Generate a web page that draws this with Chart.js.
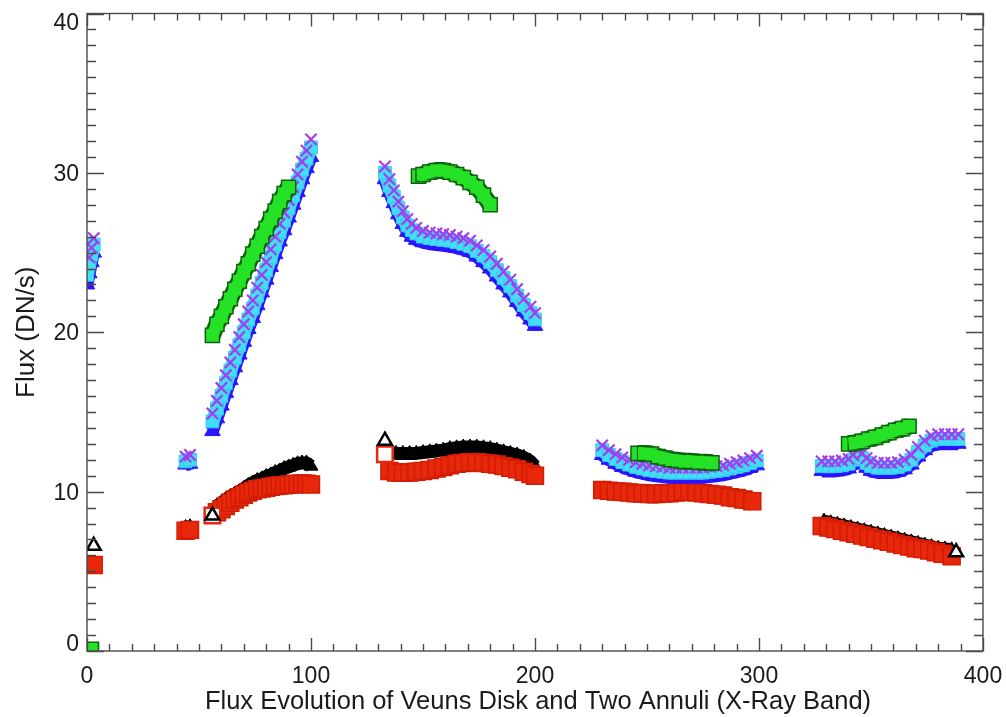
<!DOCTYPE html>
<html>
<head>
<meta charset="utf-8">
<script src="https://cdn.jsdelivr.net/npm/chart.js@4/dist/chart.umd.min.js"></script>
<style>
  html, body { margin: 0; padding: 0; background: #fff; }
  #wrap { width: 1006px; height: 717px; }
</style>
</head>
<body>
<div id="wrap"><canvas id="c" width="1006" height="717"></canvas></div>
<script>
// Venus disk and two annuli, X-ray band flux in DN/s, [time index, flux]
const diskBlack = [
  [44, 7.75], [46, 7.8],
  [58, 9.1], [60, 9.3], [62, 9.5], [64, 9.7], [66, 9.85], [68, 10.0], [70, 10.2], [72, 10.4], [74, 10.55],
  [76, 10.7], [78, 10.8], [80, 10.95], [82, 11.05], [84, 11.2], [86, 11.3], [88, 11.45], [90, 11.55], [92, 11.65],
  [94, 11.75], [96, 11.8], [98, 11.8], [100, 11.6],
  [135, 12.5], [138, 12.4], [141, 12.4], [144, 12.4], [147, 12.4], [150, 12.45], [153, 12.5], [156, 12.55],
  [159, 12.6], [162, 12.7], [165, 12.75], [168, 12.8], [171, 12.8], [174, 12.8], [177, 12.75], [180, 12.7], [183, 12.6],
  [186, 12.5], [189, 12.4], [192, 12.3], [195, 12.15], [198, 11.9], [200, 11.6],
  [230, 10.0], [235, 9.95], [240, 9.9], [245, 9.8], [250, 9.75], [255, 9.75], [260, 9.8], [265, 9.85], [270, 9.9],
  [275, 9.8], [280, 9.7], [285, 9.6], [290, 9.5], [295, 9.35], [297, 9.25],
  [329, 8.15], [332, 8.05], [335, 7.95], [338, 7.85], [341, 7.75], [344, 7.65], [347, 7.55], [350, 7.45], [353, 7.35],
  [356, 7.25], [359, 7.15], [362, 7.05], [365, 6.95], [368, 6.85], [371, 6.75], [374, 6.65], [377, 6.55], [380, 6.45],
  [383, 6.4], [386, 6.35]
];
// disk samples drawn as open symbols
const diskBlackOpen = [[3, 6.6], [56, 8.5], [133, 13.2], [388, 6.2]];
const diskRed = [
  [3, 5.4],
  [44, 7.55], [46, 7.6],
  [58, 8.7], [60, 8.9], [62, 9.1], [64, 9.3], [66, 9.5], [68, 9.65], [70, 9.8], [72, 9.95], [74, 10.05],
  [76, 10.15], [78, 10.2], [80, 10.25], [82, 10.3], [84, 10.35], [86, 10.4], [88, 10.4], [90, 10.45], [92, 10.45],
  [94, 10.5], [96, 10.5], [98, 10.5], [100, 10.45],
  [135, 11.3], [138, 11.2], [141, 11.2], [144, 11.2], [147, 11.25], [150, 11.3], [153, 11.35], [156, 11.45],
  [159, 11.55], [162, 11.65], [165, 11.75], [168, 11.8], [171, 11.85], [174, 11.85], [177, 11.8], [180, 11.75],
  [183, 11.7], [186, 11.6], [189, 11.5], [192, 11.4], [195, 11.25], [198, 11.1], [200, 11.0],
  [230, 10.1], [233, 10.05], [236, 10.0], [239, 10.0], [242, 9.95], [245, 9.9], [248, 9.9], [251, 9.85], [254, 9.85],
  [257, 9.9], [260, 9.9], [263, 9.95], [266, 10.0], [269, 10.0], [272, 9.95], [275, 9.9], [278, 9.85], [281, 9.8],
  [284, 9.75], [287, 9.65], [290, 9.6], [293, 9.5], [297, 9.4],
  [328, 7.85], [331, 7.75], [334, 7.65], [337, 7.55], [340, 7.45], [343, 7.35], [346, 7.25], [349, 7.15], [352, 7.05],
  [355, 6.95], [358, 6.85], [361, 6.75], [364, 6.65], [367, 6.55], [370, 6.45], [373, 6.4], [376, 6.3], [379, 6.2],
  [382, 6.1], [386, 5.95]
];
const diskRedOpen = [[56, 8.5], [133, 12.35]];
const innerBlue = [
  [0, 23.0], [1, 23.7], [2, 24.4], [3, 25.0],
  [44, 11.7], [46, 11.75],
  [56, 13.8], [58, 14.6], [60, 15.4], [62, 16.2], [64, 17.0], [66, 17.8], [68, 18.6], [70, 19.4], [72, 20.2], [74, 20.9],
  [76, 21.7], [78, 22.5], [80, 23.3], [82, 24.1], [84, 24.9], [86, 25.7], [88, 26.4], [90, 27.2], [92, 28.0], [94, 28.8],
  [96, 29.6], [98, 30.3], [100, 31.0],
  [133, 29.6], [135, 28.8], [137, 28.1], [139, 27.4], [141, 26.8], [143, 26.3], [145, 26.0], [147, 25.8], [150, 25.65],
  [153, 25.55], [156, 25.5], [159, 25.45], [162, 25.4], [165, 25.3], [168, 25.2], [171, 25.05], [174, 24.75], [177, 24.4],
  [180, 24.0], [183, 23.5], [186, 23.0], [189, 22.5], [192, 21.9], [195, 21.3], [198, 20.8], [200, 20.4],
  [230, 12.3], [233, 12.0], [236, 11.75], [239, 11.55], [242, 11.4], [245, 11.25], [248, 11.15], [251, 11.05], [254, 11.0],
  [257, 10.95], [260, 10.9], [263, 10.9], [266, 10.9], [269, 10.9], [272, 10.9], [275, 10.9], [278, 10.95], [281, 11.0],
  [284, 11.05], [287, 11.15], [290, 11.25], [293, 11.35], [296, 11.5], [299, 11.65],
  [328, 11.3], [331, 11.3], [334, 11.3], [337, 11.35], [340, 11.45], [342, 11.7], [344, 12.0], [346, 11.8], [348, 11.5],
  [350, 11.3], [353, 11.2], [356, 11.2], [359, 11.2], [362, 11.25], [365, 11.4], [368, 11.7], [371, 12.2], [374, 12.6],
  [377, 12.9], [380, 13.0], [383, 13.0], [386, 13.0], [389, 13.0]
];
const innerCyan = [
  [0, 23.6], [1, 24.3], [2, 24.9], [3, 25.5],
  [44, 11.9], [46, 12.0],
  [56, 14.4], [58, 15.2], [60, 16.0], [62, 16.8], [64, 17.6], [66, 18.4], [68, 19.2], [70, 20.0], [72, 20.8], [74, 21.5],
  [76, 22.3], [78, 23.1], [80, 23.9], [82, 24.7], [84, 25.5], [86, 26.3], [88, 27.0], [90, 27.8], [92, 28.6], [94, 29.4],
  [96, 30.2], [98, 30.9], [100, 31.6],
  [133, 30.0], [135, 29.2], [137, 28.5], [139, 27.8], [141, 27.2], [143, 26.7], [145, 26.4], [147, 26.2], [150, 26.0],
  [153, 25.9], [156, 25.85], [159, 25.8], [162, 25.75], [165, 25.65], [168, 25.55], [171, 25.4], [174, 25.1], [177, 24.8],
  [180, 24.4], [183, 23.9], [186, 23.4], [189, 22.9], [192, 22.3], [195, 21.7], [198, 21.2], [200, 20.8],
  [230, 12.6], [233, 12.3], [236, 12.05], [239, 11.85], [242, 11.7], [245, 11.55], [248, 11.45], [251, 11.35], [254, 11.3],
  [257, 11.25], [260, 11.2], [263, 11.2], [266, 11.2], [269, 11.2], [272, 11.2], [275, 11.2], [278, 11.25], [281, 11.3],
  [284, 11.35], [287, 11.45], [290, 11.55], [293, 11.65], [296, 11.8], [299, 11.95],
  [328, 11.6], [331, 11.6], [334, 11.6], [337, 11.65], [340, 11.75], [342, 12.0], [344, 12.3], [346, 12.1], [348, 11.8],
  [350, 11.6], [353, 11.5], [356, 11.5], [359, 11.5], [362, 11.55], [365, 11.7], [368, 12.0], [371, 12.5], [374, 12.9],
  [377, 13.2], [380, 13.3], [383, 13.3], [386, 13.3], [389, 13.3]
];
const innerPurple = [
  [1, 24.7], [2, 25.3], [3, 25.9],
  [44, 12.2], [46, 12.3],
  [56, 14.9], [58, 15.7], [60, 16.5], [62, 17.3], [64, 18.1], [66, 18.9], [68, 19.7], [70, 20.5], [72, 21.3], [74, 22.0],
  [76, 22.8], [78, 23.6], [80, 24.4], [82, 25.2], [84, 26.0], [86, 26.8], [88, 27.5], [90, 28.3], [92, 29.1], [94, 29.9],
  [96, 30.7], [98, 31.4], [100, 32.1],
  [133, 30.4], [135, 29.6], [137, 28.9], [139, 28.2], [141, 27.6], [143, 27.1], [145, 26.8], [147, 26.55], [150, 26.35],
  [153, 26.25], [156, 26.2], [159, 26.15], [162, 26.1], [165, 26.0], [168, 25.9], [171, 25.75], [174, 25.45], [177, 25.15],
  [180, 24.75], [183, 24.3], [186, 23.8], [189, 23.3], [192, 22.7], [195, 22.1], [198, 21.6], [200, 21.2],
  [230, 12.9], [233, 12.6], [236, 12.35], [239, 12.15], [242, 12.0], [245, 11.85], [248, 11.75], [251, 11.65], [254, 11.6],
  [257, 11.55], [260, 11.5], [263, 11.5], [266, 11.5], [269, 11.5], [272, 11.5], [275, 11.5], [278, 11.55], [281, 11.6],
  [284, 11.65], [287, 11.75], [290, 11.85], [293, 11.95], [296, 12.1], [299, 12.25],
  [328, 11.9], [331, 11.9], [334, 11.9], [337, 11.95], [340, 12.05], [342, 12.3], [344, 12.6], [346, 12.4], [348, 12.1],
  [350, 11.9], [353, 11.8], [356, 11.8], [359, 11.8], [362, 11.85], [365, 12.0], [368, 12.3], [371, 12.8], [374, 13.2],
  [377, 13.5], [380, 13.6], [383, 13.6], [386, 13.6], [389, 13.6]
];
const outerGreen = [
  [2, 0.1],
  [56, 19.8], [58, 20.5], [60, 21.0], [62, 21.6], [64, 22.1], [66, 22.7], [68, 23.2], [70, 23.8], [72, 24.3], [74, 24.9],
  [76, 25.4], [78, 26.0], [80, 26.5], [82, 27.1], [84, 27.6], [86, 28.2], [88, 28.7], [90, 29.1],
  [148, 29.8], [150, 29.9], [153, 30.05], [156, 30.15], [159, 30.15], [162, 30.05], [165, 29.9], [168, 29.7], [171, 29.4],
  [174, 29.1], [177, 28.6], [180, 28.0],
  [246, 12.4], [249, 12.4], [252, 12.35], [255, 12.2], [258, 12.1], [261, 12.0], [264, 11.95], [267, 11.9], [270, 11.9],
  [273, 11.85], [276, 11.85], [279, 11.8],
  [340, 13.0], [343, 13.05], [346, 13.15], [349, 13.3], [352, 13.4], [355, 13.55], [358, 13.7], [361, 13.85], [364, 13.95],
  [367, 14.1]
];

const xTicks = [0, 100, 200, 300, 400];
const yTicks = [0, 10, 20, 30, 40];
const xTitle = 'Flux Evolution of Veuns Disk and Two Annuli (X-Ray Band)';
const yTitle = 'Flux (DN/s)';

const FONT = '"Liberation Sans", Arial, Helvetica, sans-serif';
const pts = arr => arr.map(([x, y]) => ({ x, y }));

// consecutive samples more than 6 time units apart are not joined
const common = { showLine: true, spanGaps: 6, clip: 0, tension: 0, borderJoinStyle: 'round', borderCapStyle: 'butt', fill: false };

// IDL-style box frame with inward ticks on every side
const idlFrame = {
  id: 'idlFrame',
  afterDatasetsDraw(chart) {
    const { ctx, chartArea: a, scales: { x, y } } = chart;
    ctx.save();
    ctx.strokeStyle = '#4a4a4a';
    ctx.lineWidth = 1.4;
    ctx.strokeRect(a.left, a.top, a.right - a.left, a.bottom - a.top);
    ctx.beginPath();
    for (let v = y.min; v <= y.max; v += 1) {
      const py = Math.round(y.getPixelForValue(v)) + 0.5;
      const len = v % 10 === 0 ? 17 : 9;
      ctx.moveTo(a.left, py); ctx.lineTo(a.left + len, py);
      ctx.moveTo(a.right, py); ctx.lineTo(a.right - len, py);
    }
    for (let v = x.min; v <= x.max; v += 10) {
      const px = Math.round(x.getPixelForValue(v)) + 0.5;
      const len = v % 100 === 0 ? 13 : 7;
      ctx.moveTo(px, a.bottom); ctx.lineTo(px, a.bottom - len);
      ctx.moveTo(px, a.top); ctx.lineTo(px, a.top + len);
    }
    ctx.stroke();

    ctx.fillStyle = '#1a1a1a';
    ctx.font = '23px ' + FONT;
    ctx.textAlign = 'right';
    ctx.textBaseline = 'alphabetic';
    yTicks.forEach(v => {
      const py = y.getPixelForValue(v);
      const base = Math.min(Math.max(py + 8, a.top + 16), a.bottom);
      ctx.fillText(String(v), a.left - 8, base);
    });
    ctx.textAlign = 'center';
    xTicks.forEach(v => {
      ctx.fillText(String(v), x.getPixelForValue(v), a.bottom + 32);
    });

    ctx.font = '25.5px ' + FONT;
    ctx.fillText(xTitle, (a.left + a.right) / 2 + 3, a.bottom + 58);
    ctx.save();
    ctx.font = '26px ' + FONT;
    ctx.translate(34, (a.top + a.bottom) / 2);
    ctx.rotate(-Math.PI / 2);
    ctx.fillText(yTitle, 0, 0);
    ctx.restore();
    ctx.restore();
  }
};

new Chart(document.getElementById('c'), {
  type: 'line',
  data: {
    datasets: [
      { ...common, label: 'Outer annulus', order: 0, data: pts(outerGreen),
        borderColor: '#26e226', borderWidth: 12, pointRadius: 0 },
      { ...common, label: 'Outer annulus edge', order: 1, data: pts(outerGreen),
        borderColor: '#0e620e', borderWidth: 17, pointStyle: 'rect', pointRadius: 10,
        pointBackgroundColor: '#26e226', pointBorderColor: '#0e620e', pointBorderWidth: 1.5 },
      { ...common, label: 'Inner annulus (c)', order: 2, data: pts(innerPurple), showLine: false,
        pointStyle: 'crossRot', pointRadius: 8, pointBorderColor: '#a43cf0', pointBorderWidth: 2.2 },
      { ...common, label: 'Inner annulus (b)', order: 3, data: pts(innerCyan),
        borderColor: '#42dff4', borderWidth: 14, pointStyle: 'rect', pointRadius: 9,
        pointBackgroundColor: '#42dff4', pointBorderColor: '#35c8f0', pointBorderWidth: 1 },
      { ...common, label: 'Inner annulus (a)', order: 4, data: pts(innerBlue),
        borderColor: '#2c14ff', borderWidth: 13, pointStyle: 'triangle', pointRadius: 9,
        pointBackgroundColor: '#2c14ff', pointBorderColor: '#2c14ff', pointBorderWidth: 1 },
      { ...common, label: 'Disk open', order: 5, data: pts(diskBlackOpen), showLine: false,
        pointStyle: 'triangle', pointRadius: 8, pointBackgroundColor: '#fff',
        pointBorderColor: '#000', pointBorderWidth: 2.5 },
      { ...common, label: 'Disk (corrected) open', order: 6, data: pts(diskRedOpen), showLine: false,
        pointStyle: 'rect', pointRadius: 11, pointBackgroundColor: '#fff',
        pointBorderColor: '#e8280a', pointBorderWidth: 2.5 },
      { ...common, label: 'Disk (corrected)', order: 7, data: pts(diskRed),
        borderColor: '#e8280a', borderWidth: 19, pointStyle: 'rect', pointRadius: 12,
        pointBackgroundColor: '#e8280a', pointBorderColor: '#d21c04', pointBorderWidth: 1.5 },
      { ...common, label: 'Disk', order: 8, data: pts(diskBlack),
        borderColor: '#000', borderWidth: 13, pointStyle: 'triangle', pointRadius: 8,
        pointBackgroundColor: '#000', pointBorderColor: '#000', pointBorderWidth: 1 }
    ]
  },
  options: {
    responsive: false,
    animation: false,
    events: [],
    layout: { padding: { top: 13, right: 23, left: 0, bottom: 0 } },
    plugins: { legend: { display: false }, tooltip: { enabled: false } },
    scales: {
      x: { type: 'linear', min: 0, max: 400, ticks: { display: false }, grid: { display: false },
           border: { display: false }, afterFit(s) { s.height = 66; } },
      y: { type: 'linear', min: 0, max: 40, ticks: { display: false }, grid: { display: false },
           border: { display: false }, afterFit(s) { s.width = 87; } }
    }
  },
  plugins: [idlFrame]
});
</script>
</body>
</html>
